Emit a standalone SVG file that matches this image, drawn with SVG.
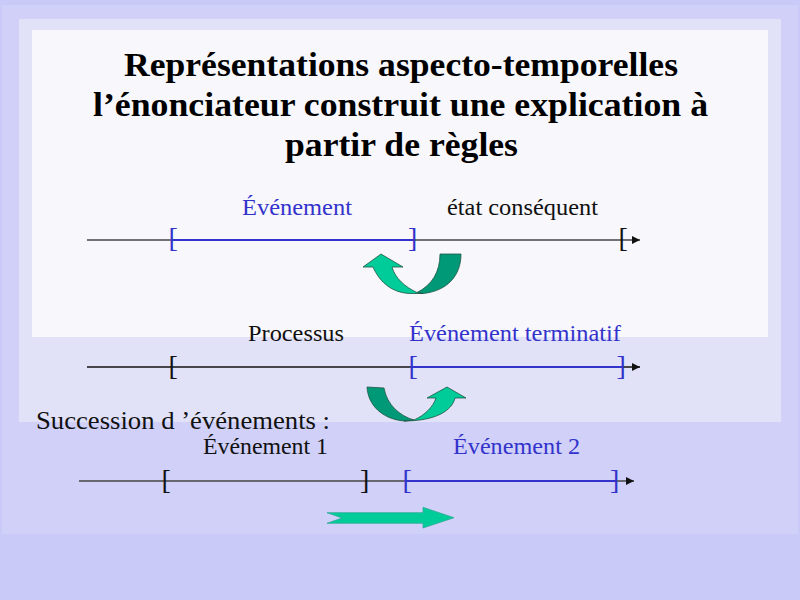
<svg xmlns="http://www.w3.org/2000/svg" width="800" height="600" viewBox="0 0 800 600">
<defs>
<style>
.title{font-family:"Liberation Serif","Times New Roman",serif;font-weight:bold;font-size:34px;fill:#000}
.lbl{font-family:"Liberation Serif","Times New Roman",serif;font-size:24px}
.blk{fill:#111}
.blu{fill:#3333CC}
.br{font-family:"Liberation Serif","Times New Roman",serif;font-size:28px}
.axis{stroke:#444;stroke-width:1.5;fill:none}
.axis2{stroke:#111;stroke-width:1.5;fill:none}
.seg{stroke:#3333CC;stroke-width:2.2;fill:none}
.light{fill:#00CC99;stroke:#225544;stroke-width:0.8;stroke-linejoin:round}
.dark{fill:#009977;stroke:#225544;stroke-width:0.8;stroke-linejoin:round}
</style>
<marker id="ah" markerUnits="userSpaceOnUse" markerWidth="10" markerHeight="10" refX="8" refY="4" orient="auto">
<path d="M0,0 L8,4 L0,8 Z" fill="#111"/>
</marker>
</defs>

<g id="background">
<rect x="0" y="0" width="800" height="600" fill="#CACAF8"/>
<rect x="2" y="5" width="796" height="529" fill="#D0D0F8"/>
<rect x="19" y="19" width="762" height="403" fill="#E1E1F8"/>
<rect x="32" y="30" width="736" height="307" fill="#F7F7FC"/>
</g>

<g id="title">
<text class="title" x="124" y="76" textLength="554" lengthAdjust="spacingAndGlyphs">Représentations aspecto-temporelles</text>
<text class="title" x="93" y="116" textLength="615" lengthAdjust="spacingAndGlyphs">l’énonciateur construit une explication à</text>
<text class="title" x="285" y="156" textLength="233" lengthAdjust="spacingAndGlyphs">partir de règles</text>
</g>

<g id="connectors">
<line class="axis" x1="87" y1="240" x2="640" y2="240" marker-end="url(#ah)"/>
<line class="axis2" x1="87" y1="367" x2="640" y2="367" marker-end="url(#ah)"/>
<line class="axis" x1="79" y1="481" x2="634" y2="481" marker-end="url(#ah)"/>
</g>

<g id="timeline1">
<line class="seg" x1="173" y1="240" x2="413" y2="240"/>
<text class="lbl blu" x="242" y="215" textLength="110" lengthAdjust="spacingAndGlyphs">Événement</text>
<text class="lbl blk" x="447" y="215" textLength="151" lengthAdjust="spacingAndGlyphs">état conséquent</text>
<text class="br blu" x="168.5" y="246.5">[</text>
<text class="br blu" x="408" y="246.5">]</text>
<text class="br blk" x="618.5" y="246.5">[</text>
</g>

<g id="timeline2">
<line class="seg" x1="412" y1="367" x2="622" y2="367"/>
<text class="lbl blk" x="248" y="341" textLength="96" lengthAdjust="spacingAndGlyphs">Processus</text>
<text class="lbl blu" x="409" y="341" textLength="212" lengthAdjust="spacingAndGlyphs">Événement terminatif</text>
<text class="br blk" x="168.5" y="374.5">[</text>
<text class="br blu" x="408.5" y="374.5">[</text>
<text class="br blu" x="616.6" y="374.5">]</text>
</g>

<g id="timeline3">
<line class="seg" x1="406" y1="481" x2="616" y2="481"/>
<text class="lbl blk" style="font-size:26px" x="36" y="429" textLength="294" lengthAdjust="spacingAndGlyphs">Succession d ’événements :</text>
<text class="lbl blk" x="203" y="454" textLength="125" lengthAdjust="spacingAndGlyphs">Événement 1</text>
<text class="lbl blu" x="453" y="454" textLength="127" lengthAdjust="spacingAndGlyphs">Événement 2</text>
<text class="br blk" x="161.5" y="488.5">[</text>
<text class="br blk" x="360" y="488.5">]</text>
<text class="br blu" x="402.5" y="488.5">[</text>
<text class="br blu" x="610" y="488.5">]</text>
</g>

<g id="curved-arrow-1">
<path class="dark" d="M440,254 L461,254 C461,276 447,291 423,293.5 L417,292.5 C432,285 440,272 440,254 Z"/>
<path class="light" d="M417,292.5 C405,287 395,278 392,267 L403,267 L381,254 L363,267 L373,267 C380,283 393,293 410,293.5 L423,293.5 Z"/>
</g>

<g id="curved-arrow-2">
<path class="dark" d="M367,387 L384,388 C387,405 400,416 414,420 L404,421 C382,419 368,405 367,387 Z"/>
<path class="light" d="M414,420 C425,415 433,407 436,398 L427,398 L447,387 L466,398 L455,398 C452,411 435,421 404,421 Z"/>
</g>

<g id="block-arrow">
<path d="M327,512.7 L423,512.7 L423,507.3 L454,517.7 L423,528 L423,523.3 L327,523.3 L342,518 Z" fill="#00CC99" stroke="#33AA99" stroke-width="0.8"/>
</g>
</svg>
